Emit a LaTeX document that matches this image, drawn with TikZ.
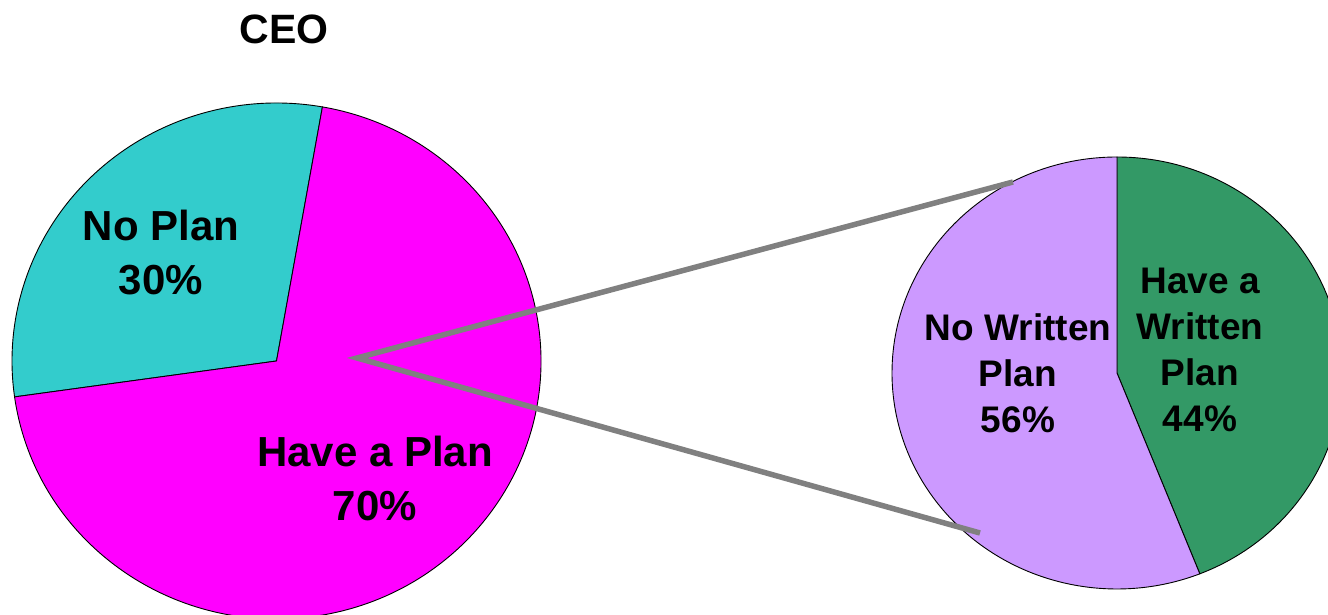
\documentclass[tikz,border=0pt]{standalone}
\usepackage{fontspec}
\setmainfont{Liberation Sans}
\usepackage{xcolor}
\usepackage{tikz}

\definecolor{noplan}{HTML}{33CCCC}
\definecolor{haveplan}{HTML}{FF00FF}
\definecolor{nowritten}{HTML}{CC99FF}
\definecolor{written}{HTML}{339966}
\definecolor{zoomgrey}{HTML}{808080}

\begin{document}
\begin{tikzpicture}[x=1pt,y=1pt,
  slice/.style={draw=black,line width=0.9pt},
  biglabel/.style={align=center,inner sep=0pt,font=\bfseries\fontsize{42}{54}\selectfont},
  smalllabel/.style={align=center,inner sep=0pt,font=\bfseries\fontsize{37}{46}\selectfont},
  zoomline/.style={draw=zoomgrey,line width=5.5pt}]
  \useasboundingbox (0,0) rectangle (1328,615);
  \clip (0,0) rectangle (1328,615);
  \coordinate (lc) at (276.5,254);
  \coordinate (rc) at (1117,242);
  \filldraw[slice,fill=noplan] (lc) -- ++(80:264.5 and 258) arc[start angle=80,end angle=188,x radius=264.5,y radius=258] -- cycle;
  \filldraw[slice,fill=haveplan] (lc) -- ++(188:264.5 and 258) arc[start angle=188,end angle=440,x radius=264.5,y radius=258] -- cycle;
  \filldraw[slice,fill=written] (rc) -- ++(90:225 and 216) arc[start angle=90,end angle=-68.4,x radius=225,y radius=216] -- cycle;
  \filldraw[slice,fill=nowritten] (rc) -- ++(90:225 and 216) arc[start angle=90,end angle=291.6,x radius=225,y radius=216] -- cycle;
  \coordinate (apex) at (357,257);
  \coordinate (ztop) at (1013,433);
  \coordinate (zbot) at (980,82);
  \draw[zoomline] (ztop) -- (apex) -- (zbot);
  \node[biglabel,font=\bfseries\fontsize{41}{54}\selectfont] (ceo) at (284,586) {CEO};
  \node[biglabel] (noplan) at (161,362.5) {No Plan\\30\%};
  \node[biglabel] (haveplan) at (375,137) {Have a Plan\\70\%};
  \node[smalllabel] (nowritten) at (1018,241.5) {No Written\\Plan\\56\%};
  \node[smalllabel] (written) at (1200,265) {Have a\\Written\\Plan\\44\%};
\end{tikzpicture}
\end{document}
